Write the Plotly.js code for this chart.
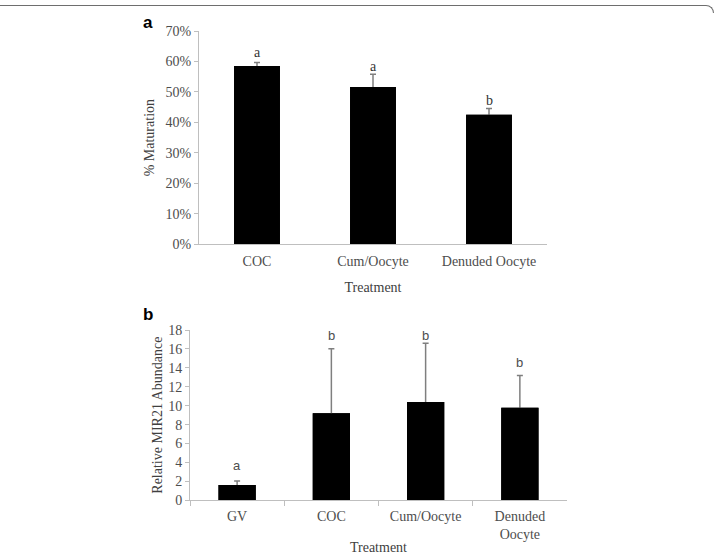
<!DOCTYPE html>
<html><head><meta charset="utf-8">
<script src="https://cdn.plot.ly/plotly-3.0.1.min.js"></script>
<style>
html,body{margin:0;padding:0;background:#fff;overflow:hidden}
#wrap{position:relative;width:715px;height:555px;overflow:hidden}
#chart{width:715px;height:555px}
#frame{position:absolute;left:-20px;top:5px;width:733px;height:7px;border-top:1.5px solid #6e6e6e;border-right:1.5px solid #6e6e6e;border-top-right-radius:8px;pointer-events:none}
</style></head><body>
<div id="wrap"><div id="chart"></div><div id="frame"></div></div>
<script>
// Panel a: % maturation
const catsA = ['COC', 'Cum/Oocyte', 'Denuded Oocyte'];
const valsA = [0.585, 0.516, 0.425];
const errsA = [0.012, 0.042, 0.021];
const lettersA = ['a', 'a', 'b'];
const letterYA = [0.631, 0.582, 0.471];

// Panel b: relative MIR21 abundance
const catsB = ['GV', 'COC', 'Cum/Oocyte', 'Denuded<br>Oocyte'];
const valsB = [1.62, 9.2, 10.39, 9.79];
const errsB = [0.42, 6.83, 6.2, 3.4];
const lettersB = ['a', 'b', 'b', 'b'];
const letterYB = [3.66, 17.47, 17.47, 14.6];

const serif = 'Liberation Serif, Times New Roman, serif';
const sans = 'Liberation Sans, Arial, sans-serif';
const tickGray = '#4d4d4d';
const lineGray = '#bfbfbf';

function barPair(cats, vals, errs, xa, ya) {
  // first trace carries symmetric error bars; the second identical bar covers their lower half
  return [
    {
      type: 'bar', x: cats, y: vals, xaxis: xa, yaxis: ya,
      marker: {color: '#000000', line: {width: 0}},
      error_y: {type: 'data', symmetric: true, array: errs, color: '#7f7f7f', thickness: 1.5, width: 3},
      hoverinfo: 'skip', showlegend: false
    },
    {
      type: 'bar', x: cats, y: vals, xaxis: xa, yaxis: ya,
      marker: {color: '#000000', line: {width: 0}},
      hoverinfo: 'skip', showlegend: false
    }
  ];
}

const traces = barPair(catsA, valsA, errsA, 'x', 'y').concat(barPair(catsB, valsB, errsB, 'x2', 'y2'));

const annotations = [];
catsA.forEach((c, i) => annotations.push({
  xref: 'x', yref: 'y', x: c, y: letterYA[i], text: lettersA[i], showarrow: false,
  xanchor: 'center', yanchor: 'middle', font: {family: serif, size: 14, color: '#333333'}
}));
catsB.forEach((c, i) => annotations.push({
  xref: 'x2', yref: 'y2', x: c, y: letterYB[i], text: lettersB[i], showarrow: false,
  xanchor: 'center', yanchor: 'middle', font: {family: sans, size: 13, color: '#4d4d4d'}
}));
annotations.push({xref: 'paper', yref: 'paper', x: 148/715, y: 1 - 22/555, text: '<b>a</b>', showarrow: false,
  xanchor: 'center', yanchor: 'middle', font: {family: sans, size: 17, color: '#000'}});
annotations.push({xref: 'paper', yref: 'paper', x: 148/715, y: 1 - 314/555, text: '<b>b</b>', showarrow: false,
  xanchor: 'center', yanchor: 'middle', font: {family: sans, size: 17, color: '#000'}});

const axCommon = {
  showgrid: false, zeroline: false, showline: true, linecolor: lineGray, linewidth: 1,
  tickfont: {family: serif, size: 14, color: tickGray}, automargin: false, fixedrange: true
};
const titleFont = {family: serif, size: 14, color: '#404040'};

const layout = {
  width: 715, height: 555,
  margin: {l: 0, r: 0, t: 0, b: 0},
  paper_bgcolor: '#ffffff', plot_bgcolor: '#ffffff',
  font: {family: serif, size: 14, color: tickGray},
  barmode: 'overlay',
  bargap: 0.605,
  xaxis: Object.assign({}, axCommon, {
    domain: [199/715, 547/715], anchor: 'y', ticks: '', ticklabelstandoff: 4,
    title: {text: 'Treatment', font: titleFont, standoff: 14}
  }),
  yaxis: Object.assign({}, axCommon, {
    domain: [(555-244.3)/555, (555-31)/555], anchor: 'x', range: [0, 0.7], dtick: 0.1, tick0: 0,
    tickformat: '.0%', ticks: 'outside', ticklen: 4, tickcolor: lineGray,
    title: {text: '% Maturation', font: titleFont, standoff: 7}
  }),
  xaxis2: Object.assign({}, axCommon, {
    domain: [190/715, 567/715], anchor: 'y2', ticks: 'outside', tickson: 'boundaries', ticklen: 5, tickcolor: lineGray,
    ticklabelstandoff: 3,
    title: {text: 'Treatment', font: titleFont, standoff: 3}
  }),
  yaxis2: Object.assign({}, axCommon, {
    domain: [(555-500.3)/555, (555-330)/555], anchor: 'x2', range: [0, 18], dtick: 2, tick0: 0,
    ticks: 'outside', ticklen: 4, tickcolor: lineGray,
    title: {text: 'Relative MIR21 Abundance', font: titleFont, standoff: 2}
  }),
  annotations: annotations
};

Plotly.newPlot('chart', traces, layout, {displayModeBar: false, staticPlot: true});
</script>
</body></html>
